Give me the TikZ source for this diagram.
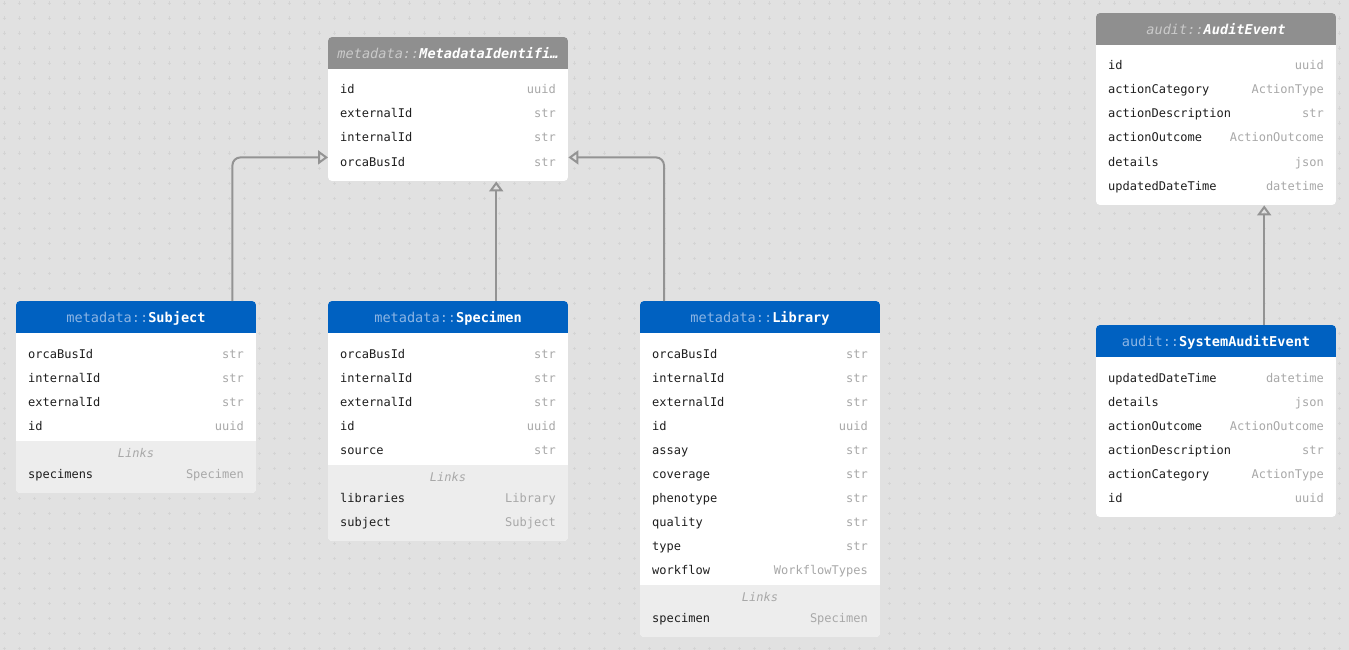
\documentclass[tikz,border=0pt]{standalone}
\usepackage{fontspec}
\usetikzlibrary{arrows.meta}
\newfontfamily\mono{DejaVu Sans Mono}
\definecolor{bgc}{HTML}{E1E1E1}
\definecolor{gridc}{HTML}{D4D4D4}
\definecolor{hdrblue}{HTML}{0061C1}
\definecolor{hdrgrey}{HTML}{8F8F8F}
\definecolor{preblue}{HTML}{8CB5E4}
\definecolor{pregrey}{HTML}{CACACA}
\definecolor{namec}{HTML}{1E1E1E}
\definecolor{typec}{HTML}{A8A8A8}
\definecolor{linkbg}{HTML}{EDEDED}
\definecolor{connc}{HTML}{939393}
\newcommand\rowfont{\mono\fontsize{12}{14}\selectfont}
\newcommand\hdrfont{\mono\fontsize{13.6}{16}\selectfont}
\tikzset{
  fname/.style={anchor=base west, inner sep=0pt, font=\rowfont, text=namec},
  ftype/.style={anchor=base east, inner sep=0pt, font=\rowfont, text=typec},
  hdr/.style={anchor=base, inner sep=0pt, font=\hdrfont, text=white},
  linkhdr/.style={anchor=base, inner sep=0pt, font=\rowfont\itshape, text=typec},
  conn/.style={draw=connc, line width=2pt, rounded corners=8pt, -{Triangle[open,length=10pt,width=14pt]}},
}
% #1 id, #2 x, #3 top, #4 nrows, #5 nlinks, #6 header colour, #7 title, #8 fields, #9 links
\newcommand\entity[9]{%
  \pgfmathsetmacro\lastrow{#3+57+24*(#4-1)}%
  \pgfmathsetmacro\bottomy{ifthenelse(#5>0,\lastrow+48+24*(#5-1)+15,\lastrow+15)}%
  \pgfmathsetmacro\hgt{\bottomy-#3}%
  \begin{scope}
    \clip[rounded corners=4pt] (#2,#3) rectangle ++(240,\hgt);
    \fill[white] (#2,#3) rectangle ++(240,\hgt);
    \fill[#6] (#2,#3) rectangle ++(240,32);
    \ifnum#5>0 \fill[linkbg] (#2,\lastrow+11) rectangle (#2+240,\bottomy);\fi
  \end{scope}
  \node[minimum width=240pt, minimum height=\hgt pt, inner sep=0pt, anchor=north west] (#1) at (#2,#3) {};
  \node[hdr] (#1-title) at (#2+120,#3+21.5) {#7};
  \foreach \fn/\ft [count=\i] in {#8} {
    \node[fname] (#1-n\i) at (#2+12,#3+57+24*\i-24) {\fn};
    \node[ftype] (#1-t\i) at (#2+228,#3+57+24*\i-24) {\ft};
  }
  \ifnum#5>0
    \node[linkhdr] (#1-links) at (#2+120,\lastrow+27) {Links};
    \foreach \fn/\ft [count=\i] in {#9} {
      \node[fname] (#1-ln\i) at (#2+12,\lastrow+24+24*\i) {\fn};
      \node[ftype] (#1-lt\i) at (#2+228,\lastrow+24+24*\i) {\ft};
    }
  \fi
}
\begin{document}
\begin{tikzpicture}[x=1pt,y=-1pt]
\useasboundingbox (0,0) rectangle (1349,650);
\fill[bgc] (0,0) rectangle (1349,650);
\draw[gridc, line width=1pt]
  \foreach \i in {0,...,89} { \foreach \j in {0,...,43} {
    (4.3+15*\i-1.8,3.3+15*\j) -- ++(3.6,0) (4.3+15*\i,3.3+15*\j-1.8) -- ++(0,3.6)
  }};

\entity{mid}{328}{37}{4}{0}{hdrgrey}
  {{\itshape\color{pregrey}metadata::}{\bfseries\itshape MetadataIdentifi…}}
  {id/uuid, externalId/str, internalId/str, orcaBusId/str}{}
\entity{sub}{16}{301}{4}{1}{hdrblue}
  {{\color{preblue}metadata::}{\bfseries Subject}}
  {orcaBusId/str, internalId/str, externalId/str, id/uuid}
  {specimens/Specimen}
\entity{spe}{328}{301}{5}{2}{hdrblue}
  {{\color{preblue}metadata::}{\bfseries Specimen}}
  {orcaBusId/str, internalId/str, externalId/str, id/uuid, source/str}
  {libraries/Library, subject/Subject}
\entity{lib}{640}{301}{10}{1}{hdrblue}
  {{\color{preblue}metadata::}{\bfseries Library}}
  {orcaBusId/str, internalId/str, externalId/str, id/uuid, assay/str, coverage/str, phenotype/str, quality/str, type/str, workflow/WorkflowTypes}
  {specimen/Specimen}
\entity{aud}{1096}{13}{6}{0}{hdrgrey}
  {{\itshape\color{pregrey}audit::}{\bfseries\itshape AuditEvent}}
  {id/uuid, actionCategory/ActionType, actionDescription/str, actionOutcome/ActionOutcome, details/json, updatedDateTime/datetime}{}
\entity{sys}{1096}{325}{6}{0}{hdrblue}
  {{\color{preblue}audit::}{\bfseries SystemAuditEvent}}
  {updatedDateTime/datetime, details/json, actionOutcome/ActionOutcome, actionDescription/str, actionCategory/ActionType, id/uuid}{}

\draw[conn] ([xshift=-24pt]sub.north east) |- ([yshift=24pt]mid.south west);
\draw[conn] ([xshift=48pt]spe.north) -- ([xshift=48pt]mid.south);
\draw[conn] ([xshift=24pt]lib.north west) |- ([yshift=24pt]mid.south east);
\draw[conn] ([xshift=48pt]sys.north) -- ([xshift=48pt]aud.south);
\end{tikzpicture}
\end{document}
